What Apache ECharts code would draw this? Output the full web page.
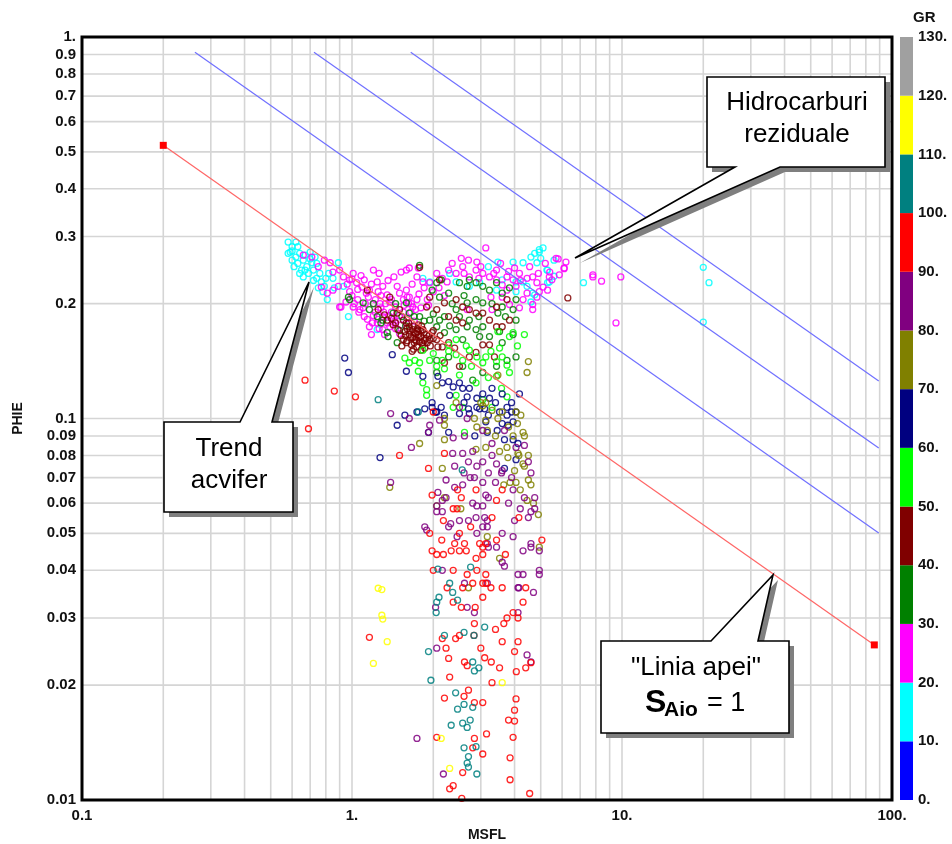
<!DOCTYPE html>
<html>
<head>
<meta charset="utf-8">
<script src="https://cdn.jsdelivr.net/npm/echarts@6/dist/echarts.min.js"></script>
<style>
html, body { margin: 0; padding: 0; background: #fff; }
#chart { width: 952px; height: 844px; }
</style>
</head>
<body>
<div id="chart"></div>
<script>
// ---- GR colour scale (API units) ----
const grEdges = [0, 10, 20, 30, 40, 50, 60, 70, 80, 90, 100, 110, 120, 130];
const grColors = ['#0000ff', '#00ffff', '#ff00ff', '#008000', '#800000', '#00ff00',
                  '#000080', '#808000', '#800080', '#ff0000', '#008080', '#ffff00', '#a0a0a0'];

// ---- grid / tick values on the log axes ----
const xGridValues = [0.2, 0.3, 0.4, 0.5, 0.6, 0.7, 0.8, 0.9, 1, 2, 3, 4, 5, 6, 7, 8, 9, 10,
                     20, 30, 40, 50, 60, 70, 80, 90];
const yGridValues = [0.02, 0.03, 0.04, 0.05, 0.06, 0.07, 0.08, 0.09, 0.1,
                     0.2, 0.3, 0.4, 0.5, 0.6, 0.7, 0.8, 0.9];
const yMinorLabels = [0.02, 0.03, 0.04, 0.05, 0.06, 0.07, 0.08, 0.09,
                      0.2, 0.3, 0.4, 0.5, 0.6, 0.7, 0.8, 0.9];

// ---- reference lines [MSFL, PHIE] ----
const waterLine = [[0.2, 0.52], [86, 0.0255]];          // Sw = 1
const sw05Line = [[0.262, 0.912], [89.3, 0.0501]];
const sw03Line = [[0.723, 0.912], [89.3, 0.0837]];
const sw02Line = [[1.65, 0.912], [89.3, 0.1254]];

// ---- log samples [MSFL, PHIE], grouped by GR class ----
const gr10_20 = [
  [0.58,0.29],[0.6,0.282],[0.59,0.273],[0.63,0.282],[0.64,0.271],[0.6,0.26],[0.66,0.26],[0.65,0.245],
  [0.69,0.24],[0.66,0.235],[0.74,0.233],[0.77,0.228],[0.75,0.22],[0.81,0.205],[0.97,0.185],[0.71,0.256],
  [0.89,0.256],[1.24,0.171],[0.8,0.233],[0.85,0.233],[0.64,0.24],[0.58,0.271],[0.7,0.273],[0.73,0.265],
  [0.78,0.215],[0.93,0.222],[0.62,0.29],[0.61,0.25],[0.68,0.25],[0.72,0.245],
  [0.6,0.275],[0.62,0.265],[0.67,0.268],[0.7,0.262],[0.74,0.255],[0.63,0.255],[0.67,0.245],[0.76,0.24],
  [0.72,0.23],[0.82,0.24],[0.86,0.22],[0.79,0.222],
  [1.83,0.233],[1.94,0.228],[3.47,0.257],[3.95,0.257],[4.3,0.256],[4.75,0.271],[4.94,0.273],[4.84,0.256],
  [5.27,0.245],[5.38,0.228],[4.3,0.228],[4.45,0.222],[4.05,0.228],[3.6,0.231],[3.43,0.217],[4.05,0.215],
  [4.67,0.213],[2.43,0.228],[2.72,0.222],[2.97,0.227],[7.2,0.227],[4.75,0.211],[4.6,0.202],[4.94,0.277],
  [5.0,0.263],[5.3,0.245],[5.6,0.236],[5.3,0.227],[20,0.249],[21,0.227],[20,0.179],[5.1,0.28],
  [4.6,0.265],[3.2,0.25],[2.3,0.24],[5.6,0.26]
];
const gr20_30 = [
  [0.66,0.268],[0.71,0.265],[0.75,0.25],[0.79,0.26],[0.83,0.256],[0.85,0.242],[0.77,0.221],[0.9,0.245],
  [0.93,0.235],[0.98,0.231],[1.01,0.24],[1.04,0.227],[1.09,0.221],[1.11,0.231],[1.2,0.245],[1.16,0.217],
  [1.24,0.228],[1.25,0.215],[1.3,0.222],[1.35,0.211],[1.38,0.202],[1.47,0.222],[1.5,0.213],[1.55,0.205],
  [1.59,0.217],[1.63,0.208],[1.68,0.196],[1.74,0.205],[1.59,0.245],[1.63,0.248],[1.74,0.235],[1.83,0.228],
  [1.94,0.227],[0.9,0.196],[0.95,0.202],[1.01,0.196],[1.07,0.193],[1.11,0.185],[1.16,0.174],[1.24,0.178],
  [1.3,0.171],[1.38,0.174],[1.18,0.166],[0.85,0.217],[0.81,0.213],[0.89,0.222],[0.91,0.196],
  [2.28,0.245],[2.57,0.25],[2.88,0.245],[2.72,0.235],[3.05,0.24],[3.23,0.235],[3.43,0.231],[3.75,0.235],
  [3.95,0.231],[4.17,0.24],[4.45,0.233],[4.67,0.235],[4.84,0.227],[5.1,0.221],[5.38,0.235],[5.5,0.231],
  [5.86,0.238],[6.11,0.248],[7.8,0.238],[5.7,0.263],[3.13,0.28],[2.54,0.263],[2.9,0.257],[3.43,0.245],
  [2.43,0.24],[2.16,0.233],[2.06,0.24],[1.76,0.248],[3.27,0.208],[3.6,0.208],[3.83,0.199],[4.17,0.195],
  [4.67,0.199],[4.3,0.205],[2.67,0.193],[3.3,0.193],[3.6,0.224],[4.05,0.222],[3.75,0.217],[4.45,0.213],
  [4.94,0.215],[4.84,0.208],[5.3,0.217],[4.67,0.193],[5.8,0.262],[6.2,0.257],[6.1,0.247],[7.8,0.235],
  [8.4,0.229],[9.9,0.235],[5.4,0.242],[9.5,0.178],
  [1.0,0.21],[1.05,0.205],[1.12,0.2],[1.15,0.208],[1.2,0.2],[1.22,0.19],[1.28,0.195],[1.3,0.185],
  [1.33,0.2],[1.4,0.19],[1.42,0.182],[1.45,0.196],[1.5,0.186],[1.55,0.19],[1.6,0.183],[1.65,0.19],
  [1.7,0.18],[1.25,0.182],[1.35,0.178],[1.45,0.172],[1.5,0.167],[1.2,0.186],[1.1,0.195],[0.98,0.215],
  [1.05,0.218],[1.62,0.2],[1.8,0.195],[1.9,0.205],[2.0,0.215],[2.1,0.22],[2.2,0.21],[1.4,0.205],
  [1.28,0.21],[1.18,0.225],[1.36,0.23],[1.08,0.237],
  [1.02,0.2],[1.06,0.19],[1.14,0.182],[1.19,0.178],[1.26,0.172],[1.32,0.166],[1.22,0.205],[1.27,0.2],
  [1.31,0.19],[1.37,0.186],[1.44,0.18],[1.52,0.176],[1.56,0.198],[1.6,0.208],[1.66,0.2],[1.72,0.193],
  [1.77,0.212],[1.85,0.22],[1.92,0.198],[0.96,0.225],[1.0,0.232],[1.13,0.213],[1.26,0.24],[1.43,0.235],
  [1.52,0.242],[1.67,0.225],[2.25,0.228],[2.6,0.24],[2.95,0.233],[3.35,0.24],[3.8,0.243],[4.2,0.23],
  [4.9,0.24],[5.2,0.255],[3.0,0.25],[2.7,0.26],[4.0,0.248],[4.55,0.25],[3.55,0.255],[2.35,0.255]
];
const gr30_40 = [
  [1.78,0.252],[2.06,0.227],[2.14,0.231],[1.98,0.217],[2.11,0.208],[2.28,0.213],[2.5,0.227],[2.67,0.222],
  [2.72,0.231],[2.88,0.227],[3.05,0.222],[3.23,0.217],[3.43,0.227],[3.6,0.213],[3.83,0.22],[4.05,0.205],
  [3.95,0.193],[3.6,0.196],[3.05,0.201],[2.88,0.205],[2.67,0.201],[2.43,0.193],[2.2,0.185],[2.11,0.181],
  [2.06,0.174],[1.94,0.181],[1.78,0.185],[1.63,0.189],[1.53,0.185],[1.42,0.189],[1.35,0.168],[1.36,0.164],
  [1.47,0.158],[1.3,0.181],[1.24,0.185],[1.16,0.193],[1.1,0.201],[0.98,0.205],[0.97,0.208],[1.59,0.201],
  [2.43,0.171],[2.67,0.174],[2.88,0.171],[2.97,0.164],[3.23,0.164],[3.52,0.169],[3.6,0.158],[3.95,0.166],
  [4.05,0.181],[3.47,0.189],[2.72,0.181],[3.05,0.174],[2.57,0.161],[2.2,0.168],[2.28,0.145],[2.57,0.137],
  [3.05,0.132],[3.43,0.137],[3.75,0.142],[4.05,0.145],[2.8,0.126],[2.06,0.142],[2.06,0.132],
  [1.5,0.17],[1.58,0.175],[1.7,0.185],[1.85,0.18],[2.0,0.188],[2.3,0.175],[2.5,0.185],[2.95,0.185],
  [3.3,0.2],[3.7,0.185],[2.35,0.2],[2.6,0.21],[1.2,0.2],[1.28,0.178],[1.45,0.2]
];
const gr40_50 = [
  [1.14,0.217],[1.38,0.208],[1.47,0.189],[1.55,0.181],[1.59,0.178],[1.63,0.174],[1.68,0.171],[1.74,0.169],
  [1.76,0.166],[1.8,0.164],[1.83,0.171],[1.89,0.166],[1.94,0.161],[1.98,0.168],[1.78,0.159],[1.71,0.161],
  [1.63,0.166],[1.57,0.169],[1.55,0.161],[1.53,0.155],[1.59,0.158],[1.66,0.156],[1.74,0.154],[1.83,0.156],
  [2.06,0.161],[2.08,0.154],[2.16,0.154],[2.28,0.158],[1.48,0.171],[1.42,0.176],[1.35,0.181],[1.89,0.196],
  [1.94,0.208],[2.06,0.193],[2.2,0.201],[2.43,0.205],[2.57,0.196],[2.72,0.193],[2.88,0.189],[2.28,0.185],
  [2.43,0.181],[2.57,0.178],[3.05,0.189],[3.23,0.181],[3.43,0.174],[3.6,0.174],[3.83,0.181],[3.43,0.196],
  [3.75,0.205],[3.23,0.156],[3.37,0.145],[3.05,0.156],[2.88,0.149],[2.72,0.145],[2.4,0.153],[2.2,0.14],
  [2.5,0.137],[1.78,0.249],[2.11,0.231],[6.3,0.207],[1.5,0.193],
  [1.6,0.172],[1.7,0.175],[1.75,0.172],[1.85,0.16],[1.9,0.158],[1.65,0.163],[1.72,0.167],[1.8,0.17],
  [1.95,0.155],[2.0,0.162],[1.7,0.158],[1.85,0.168],[1.62,0.178],[1.58,0.165],[1.67,0.15],[1.8,0.151],
  [1.68,0.163],[1.73,0.16],[1.77,0.163],[1.82,0.158],[1.88,0.162],[1.93,0.165],[1.6,0.16],[1.64,0.17],
  [1.7,0.168],[1.76,0.176],[1.81,0.175],[1.69,0.152],[1.86,0.153],[1.52,0.165],[1.45,0.178],[1.4,0.183],
  [1.32,0.187],[1.25,0.193],[2.0,0.17],[2.12,0.165]
];
const gr50_60 = [
  [1.57,0.144],[1.63,0.14],[1.71,0.142],[1.78,0.14],[1.94,0.142],[2.06,0.137],[2.16,0.142],[2.28,0.15],
  [2.43,0.147],[2.57,0.142],[2.72,0.151],[2.77,0.137],[3.05,0.14],[3.13,0.145],[3.43,0.141],[3.52,0.153],
  [3.83,0.164],[3.95,0.168],[4.35,0.166],[3.75,0.138],[3.83,0.132],[3.43,0.129],[1.83,0.151],[1.83,0.124],
  [1.89,0.119],[1.89,0.115],[1.76,0.133],[2.43,0.115],[2.57,0.107],[3.05,0.112],[3.58,0.12],[3.27,0.15],
  [2.28,0.156],[2.43,0.161],[3.47,0.169],[3.75,0.114],[2.88,0.124],[2.37,0.107],[3.3,0.107],[2.61,0.092],
  [2.0,0.148],[2.2,0.135],[2.5,0.13],[2.9,0.145],[3.2,0.128],[2.65,0.155],[3.6,0.145],[4.1,0.155]
];
const gr60_70 = [
  [0.94,0.144],[0.97,0.132],[1.41,0.147],[1.59,0.133],[1.83,0.129],[2.08,0.129],[2.16,0.124],[2.28,0.125],
  [2.5,0.124],[2.72,0.12],[2.57,0.12],[2.67,0.114],[3.05,0.116],[3.23,0.113],[3.6,0.116],[3.75,0.107],
  [4.05,0.104],[4.17,0.116],[1.98,0.11],[2.04,0.104],[1.74,0.104],[1.57,0.102],[2.37,0.121],[2.2,0.102],
  [2.72,0.103],[2.97,0.106],[1.86,0.106],[1.98,0.107],[2.14,0.107],[2.06,0.104],[2.7,0.106],[2.9,0.107],
  [3.1,0.106],[3.2,0.102],[3.52,0.104],[3.75,0.102],[3.9,0.104],[3.95,0.098],[3.78,0.096],[3.6,0.097],
  [3.13,0.098],[3.17,0.092],[3.67,0.088],[3.95,0.088],[4.12,0.086],[4.05,0.078],[3.67,0.074],[2.5,0.103],
  [2.28,0.092],[1.92,0.092],[1.47,0.096],[1.27,0.079],
  [2.3,0.115],[2.9,0.113],[3.4,0.11],[3.3,0.12],[2.6,0.11],[3.9,0.11],[3.45,0.093],[2.85,0.09]
];
const gr70_80 = [
  [1.78,0.086],[2.2,0.096],[2.2,0.1],[2.84,0.1],[2.9,0.095],[3.17,0.093],[3.13,0.099],[3.47,0.1],
  [3.0,0.11],[3.13,0.11],[4.05,0.104],[4.22,0.102],[4.3,0.092],[4.35,0.09],[3.75,0.084],[3.13,0.084],
  [3.52,0.082],[2.88,0.083],[4.12,0.081],[4.15,0.08],[4.35,0.075],[4.3,0.076],[4.0,0.073],[3.78,0.079],
  [2.2,0.088],[2.16,0.074],[3.65,0.067],[3.85,0.068],[4.5,0.069],[4.6,0.067],[4.2,0.065],[4.05,0.068],
  [4.45,0.061],[4.7,0.06],[4.9,0.056],[2.06,0.059],[2.2,0.062],[2.53,0.058],[3.17,0.049],[3.52,0.043],
  [2.7,0.036],[4.94,0.046],[1.38,0.066],[4.5,0.141],[4.45,0.132],[3.47,0.13],[3.6,0.104],[2.06,0.122],
  [2.43,0.11],[3.05,0.108],
  [3.3,0.105],[3.8,0.095],[4.1,0.097],[3.95,0.09],[4.5,0.08],[3.4,0.09]
];
const gr80_90 = [
  [1.39,0.103],[1.63,0.1],[1.94,0.096],[2.11,0.099],[2.67,0.1],[2.5,0.107],[1.66,0.084],[1.92,0.092],
  [2.37,0.089],[2.61,0.09],[3.05,0.093],[3.67,0.093],[3.3,0.086],[4.05,0.084],[4.35,0.085],[2.36,0.081],
  [2.57,0.081],[2.8,0.082],[2.7,0.077],[3.05,0.077],[3.3,0.08],[3.43,0.076],[3.2,0.072],[3.6,0.073],
  [4.5,0.077],[4.6,0.072],[2.23,0.069],[2.23,0.062],[2.08,0.064],[2.57,0.067],[2.74,0.07],[2.84,0.07],
  [3.05,0.068],[3.13,0.063],[3.2,0.062],[3.58,0.072],[3.95,0.065],[4.35,0.062],[4.75,0.062],[2.16,0.061],
  [2.06,0.059],[2.06,0.057],[2.16,0.057],[2.28,0.052],[2.32,0.053],[2.5,0.054],[2.7,0.054],[2.8,0.06],
  [2.9,0.059],[3.05,0.059],[2.88,0.055],[3.1,0.055],[3.17,0.054],[3.05,0.052],[3.17,0.052],[3.17,0.047],
  [3.2,0.046],[4.0,0.054],[4.6,0.057],[4.75,0.058],[4.5,0.055],[3.95,0.049],[4.6,0.047],[4.6,0.046],
  [4.94,0.045],[3.43,0.046],[3.6,0.042],[3.67,0.041],[4.12,0.039],[4.3,0.039],[4.94,0.04],[4.94,0.039],
  [4.7,0.035],[4.12,0.036],[4.15,0.036],[4.12,0.031],[2.16,0.04],[2.61,0.037],[3.17,0.037],[2.67,0.032],
  [2.84,0.031],[2.04,0.032],[2.06,0.025],[4.45,0.024],[4.6,0.023],[1.86,0.052],[1.89,0.051],[1.39,0.068],
  [1.74,0.0145],[2.18,0.0117],
  [2.4,0.075],[2.6,0.072],[2.9,0.075],[3.4,0.068],[3.8,0.06],[4.2,0.058],[2.4,0.066],[3.6,0.05],
  [4.3,0.045],[2.9,0.05],[2.45,0.049],[3.9,0.07]
];
const gr90_100 = [
  [1.5,0.08],[1.92,0.074],[1.98,0.063],[2.46,0.065],[2.54,0.062],[2.88,0.065],[2.37,0.058],[2.45,0.058],
  [2.18,0.054],[1.94,0.05],[1.98,0.045],[2.06,0.044],[2.18,0.044],[2.33,0.045],[2.4,0.047],[2.61,0.047],
  [2.5,0.045],[2.65,0.045],[2.97,0.047],[3.05,0.046],[3.13,0.047],[3.05,0.044],[2.88,0.043],[3.43,0.048],
  [3.43,0.061],[4.15,0.055],[5.05,0.048],[2.0,0.04],[2.37,0.04],[2.57,0.036],[2.67,0.039],[2.8,0.037],
  [3.05,0.037],[3.13,0.037],[3.27,0.036],[3.6,0.036],[3.13,0.039],[3.05,0.034],[2.54,0.032],[2.86,0.032],
  [3.95,0.031],[4.3,0.033],[4.12,0.03],[3.75,0.03],[3.65,0.029],[2.37,0.033],[2.84,0.029],[2.16,0.0265],
  [2.23,0.025],[2.42,0.0265],[2.83,0.027],[4.12,0.026],[2.28,0.0235],[2.61,0.023],[2.67,0.0225],[3.1,0.0236],
  [3.28,0.023],[3.52,0.0222],[4.0,0.0245],[4.06,0.0217],[4.4,0.0222],[4.6,0.0229],[3.3,0.0203],[2.3,0.021],
  [2.2,0.0185],[2.6,0.0187],[2.7,0.0194],[2.84,0.018],[3.05,0.018],[4.05,0.0184],[4.0,0.0172],[3.8,0.0162],
  [4.0,0.0161],[3.15,0.0149],[3.95,0.0146],[2.06,0.0146],[2.84,0.0145],[2.8,0.0137],[3.05,0.0132],[2.57,0.0118],
  [3.85,0.0129],[3.85,0.0113],[4.55,0.0104],[2.3,0.0107],[2.37,0.0109],[2.55,0.0101],[1.16,0.0267],[0.67,0.126],
  [0.86,0.118],[1.03,0.114],[0.69,0.094],[2.2,0.081],[2.0,0.104],[3.6,0.065],
  [2.5,0.05],[2.75,0.052],[3.3,0.055],[2.15,0.048],[3.7,0.044],[2.25,0.036],[2.9,0.04],[4.4,0.036],
  [3.4,0.028],[2.5,0.027],[3.0,0.025],[3.6,0.026]
];
const gr100_110 = [
  [1.76,0.104],[2.08,0.0403],[2.56,0.0733],[2.75,0.0408],[2.3,0.037],[2.36,0.035],[2.46,0.0334],[2.1,0.034],
  [2.06,0.033],[2.05,0.031],[2.6,0.0275],[2.83,0.027],[3.1,0.0284],[2.2,0.027],[1.92,0.0245],[1.96,0.0206],
  [2.8,0.023],[2.95,0.0222],[2.84,0.0218],[2.42,0.0191],[2.6,0.0178],[2.46,0.0173],[2.8,0.0175],[2.74,0.0162],
  [2.33,0.0157],[2.57,0.0159],[2.67,0.0155],[2.6,0.0137],[2.88,0.0138],[2.7,0.013],[2.67,0.0125],[2.7,0.0122],
  [2.9,0.0117],[1.25,0.112]
];
const gr110_120 = [
  [1.25,0.0359],[1.29,0.0356],[1.29,0.0305],[1.3,0.0298],[1.35,0.026],[1.2,0.0228],[3.6,0.0203],
  [2.14,0.0145],[2.3,0.0121]
];

// draw order, each class with its colour index on the GR scale
const pointClasses = [
  [gr10_20, 1], [gr20_30, 2], [gr30_40, 3], [gr40_50, 4], [gr50_60, 5], [gr60_70, 6],
  [gr70_80, 7], [gr80_90, 8], [gr90_100, 9], [gr100_110, 10], [gr110_120, 11]
];

const FONT = '"Liberation Sans", Arial, Helvetica, sans-serif';
const tickText = v => {
  const r = +(+v).toPrecision(3);
  return r >= 1 ? Math.round(r) + '.' : String(r);
};
const boldLabel = { fontFamily: FONT, fontWeight: 'bold', fontSize: 15, color: '#111' };

const chart = echarts.init(document.getElementById('chart'), null, { renderer: 'canvas' });

const series = [];

// minor + decade grid lines
series.push({
  type: 'custom', xAxisIndex: 0, yAxisIndex: 0, silent: true, z: 1,
  data: xGridValues.map(v => [v, 1]),
  renderItem: (params, api) => {
    const cs = params.coordSys;
    const p = api.coord([api.value(0), 1]);
    return { type: 'line', shape: { x1: p[0], y1: cs.y, x2: p[0], y2: cs.y + cs.height },
             style: { stroke: '#d5d5d5', lineWidth: 1.6 } };
  }
});
series.push({
  type: 'custom', xAxisIndex: 0, yAxisIndex: 0, silent: true, z: 1,
  data: yGridValues.map(v => [1, v]),
  renderItem: (params, api) => {
    const cs = params.coordSys;
    const p = api.coord([1, api.value(1)]);
    return { type: 'line', shape: { x1: cs.x, y1: p[1], x2: cs.x + cs.width, y2: p[1] },
             style: { stroke: '#d5d5d5', lineWidth: 1.6 } };
  }
});
// in-between tick labels on the PHIE axis
series.push({
  type: 'custom', xAxisIndex: 0, yAxisIndex: 0, silent: true, z: 5,
  data: yMinorLabels.map(v => [0.1, v]),
  renderItem: (params, api) => {
    const p = api.coord([0.1, api.value(1)]);
    return { type: 'text', x: p[0] - 6, y: p[1],
             style: { text: tickText(api.value(1)), textAlign: 'right', textVerticalAlign: 'middle',
                      font: 'bold 15px ' + FONT, fill: '#111' } };
  }
});

// scatter points
pointClasses.forEach(([pts, ci]) => {
  series.push({
    type: 'scatter', xAxisIndex: 0, yAxisIndex: 0, silent: true, z: 3,
    symbol: 'circle', symbolSize: 6,
    itemStyle: { color: 'rgba(0,0,0,0)', borderColor: grColors[ci], borderWidth: 1.3, opacity: 0.85 },
    data: pts
  });
});

// saturation lines
const swLine = (pts, label) => ({
  type: 'line', xAxisIndex: 0, yAxisIndex: 0, silent: true, z: 4,
  symbol: 'none', lineStyle: { color: '#7070ff', width: 1.2 },
  data: [pts[0], { value: pts[1], label: { show: true, formatter: label, position: 'bottom',
         distance: 5, offset: [-11, 0], ...boldLabel } }]
});
series.push(swLine(sw05Line, '0.5'), swLine(sw03Line, '0.3'), swLine(sw02Line, '0.2'));
series.push({
  type: 'line', xAxisIndex: 0, yAxisIndex: 0, silent: true, z: 4,
  symbol: 'rect', symbolSize: 7, showSymbol: true,
  itemStyle: { color: '#ff0000' },
  lineStyle: { color: '#ff6666', width: 1.2 },
  data: waterLine
});

// GR colour bar as stacked bins
grColors.forEach((c, i) => {
  series.push({
    type: 'bar', xAxisIndex: 1, yAxisIndex: 1, stack: 'gr', silent: true,
    barWidth: '100%', itemStyle: { color: c },
    data: [grEdges[i + 1] - grEdges[i]]
  });
});

// callouts
function callout(points, texts) {
  const els = [
    { type: 'polygon', z: 100, shape: { points: points.map(p => [p[0] + 5, p[1] + 5]) },
      style: { fill: '#7f7f7f' } },
    { type: 'polygon', z: 101, shape: { points: points },
      style: { fill: '#fff', stroke: '#000', lineWidth: 1.6 } }
  ];
  texts.forEach(t => els.push({ type: 'text', z: 102, x: t.x, y: t.y,
    style: { text: t.text, textAlign: t.align || 'center', textVerticalAlign: 'middle',
             font: (t.weight || 'normal') + ' ' + (t.size || 26) + 'px ' + FONT, fill: '#000' } }));
  return els;
}

const graphics = [].concat(
  callout([[707, 77], [885, 77], [885, 167], [780, 167], [575, 258], [735, 167], [707, 167]],
          [{ text: 'Hidrocarburi', x: 797, y: 103 }, { text: 'reziduale', x: 797, y: 135 }]),
  callout([[164, 422], [240, 422], [309, 282], [272, 422], [293, 422], [293, 512], [164, 512]],
          [{ text: 'Trend', x: 229, y: 449 }, { text: 'acvifer', x: 229, y: 481 }]),
  callout([[601, 641], [711, 641], [773, 575], [758, 641], [789, 641], [789, 733], [601, 733]],
          [{ text: '"Linia apei"', x: 696, y: 668 },
           { text: 'S', x: 645, y: 703, align: 'left', weight: 'bold', size: 32 },
           { text: 'Aio', x: 664, y: 710, align: 'left', weight: 'bold', size: 21 },
           { text: '= 1', x: 707, y: 704, align: 'left', size: 27 }])
);

chart.setOption({
  animation: false,
  backgroundColor: '#fff',
  grid: [
    { left: 82, top: 37, width: 810, height: 763, show: true, borderColor: '#000', borderWidth: 3,
      backgroundColor: 'rgba(0,0,0,0)', z: 6, outerBoundsMode: 'none' },
    { left: 900, top: 37, width: 13, height: 763, outerBoundsMode: 'none' }
  ],
  xAxis: [
    { type: 'log', logBase: 10, min: 0.1, max: 100, gridIndex: 0,
      name: 'MSFL', nameLocation: 'middle', nameGap: 27,
      nameTextStyle: { fontFamily: FONT, fontWeight: 'bold', fontSize: 14, color: '#111' },
      axisLine: { show: false }, axisTick: { show: false }, splitLine: { show: false },
      axisLabel: { formatter: tickText, margin: 8, ...boldLabel } },
    { type: 'category', gridIndex: 1, data: ['GR'], show: false }
  ],
  yAxis: [
    { type: 'log', logBase: 10, min: 0.01, max: 1, gridIndex: 0,
      name: 'PHIE', nameLocation: 'middle', nameGap: 57,
      nameTextStyle: { fontFamily: FONT, fontWeight: 'bold', fontSize: 14, color: '#111' },
      axisLine: { show: false }, axisTick: { show: false }, splitLine: { show: false },
      axisLabel: { formatter: tickText, margin: 6, ...boldLabel } },
    { type: 'value', gridIndex: 1, min: 0, max: 130, interval: 10, position: 'right',
      name: 'GR', nameLocation: 'end', nameGap: 12,
      nameTextStyle: { fontFamily: FONT, fontWeight: 'bold', fontSize: 15, color: '#111', align: 'left' },
      axisLine: { show: false }, axisTick: { show: false }, splitLine: { show: false },
      axisLabel: { formatter: v => v + '.', margin: 5, ...boldLabel } }
  ],
  series: series,
  graphic: { elements: graphics }
});
</script>
</body>
</html>
